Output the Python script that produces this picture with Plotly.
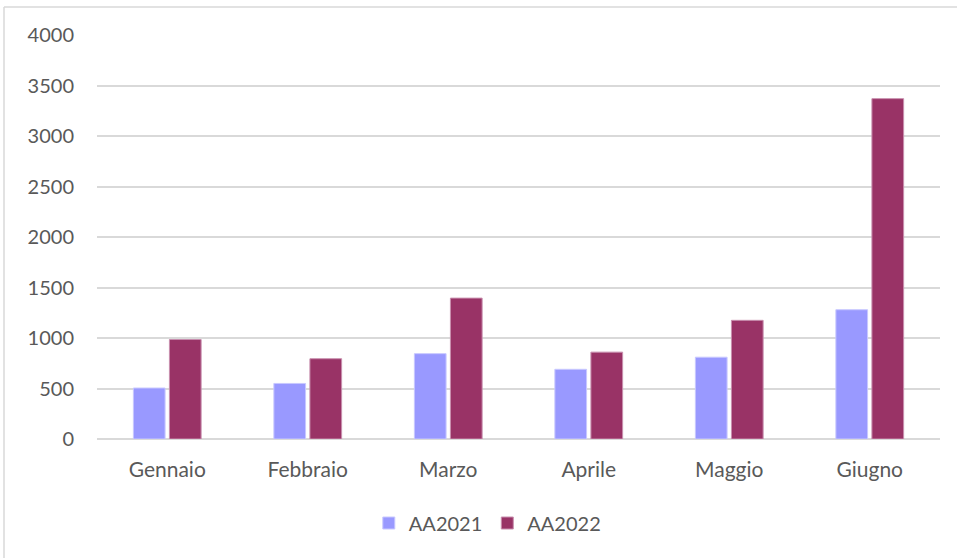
import plotly.graph_objects as go

months = ["Gennaio", "Febbraio", "Marzo", "Aprile", "Maggio", "Giugno"]
aa2021 = [505, 550, 845, 690, 810, 1280]
aa2022 = [985, 795, 1395, 860, 1175, 3370]
y_ticks = [0, 500, 1000, 1500, 2000, 2500, 3000, 3500, 4000]

W, H = 957, 558
L, R, T, B = 97, 17, 35, 119
pw, ph = W - L - R, H - T - B

font = dict(family="Lato, Carlito, Liberation Sans", size=20, color="#595959")
xfont = dict(family="Lato, Carlito, Liberation Sans", size=21, color="#595959")

fig = go.Figure()
fig.add_trace(go.Bar(name="AA2021", x=months, y=aa2021,
                     marker=dict(color="#9999FF", line=dict(color="#C8C8FF", width=1))))
fig.add_trace(go.Bar(name="AA2022", x=months, y=aa2022,
                     marker=dict(color="#993366", line=dict(color="#C88FAE", width=1))))

fig.update_layout(
    width=W, height=H,
    margin=dict(l=L, r=R, t=T, b=B),
    paper_bgcolor="white", plot_bgcolor="white",
    barmode="group", bargap=0.487, bargroupgap=0.12,
    font=font,
    showlegend=True,
    legend=dict(orientation="h", x=0.463, xanchor="center",
                y=-(523 - (T + ph)) / ph, yanchor="middle",
                font=font, itemwidth=30, traceorder="normal"),
    xaxis=dict(showgrid=False, showline=False, ticks="", ticklabelstandoff=16,
               tickfont=xfont),
    yaxis=dict(range=[0, 4000], tickvals=y_ticks, showgrid=True,
               gridcolor="#D9D9D9", gridwidth=1.5, zeroline=True,
               zerolinecolor="#D9D9D9", zerolinewidth=1.5, showline=False,
               ticks="", ticklabelstandoff=22, tickfont=font),
    shapes=[
        dict(type="line", xref="paper", yref="paper",
             x0=(4 - L) / pw, x1=(W - L) / pw, y0=1 + (T - 7) / ph, y1=1 + (T - 7) / ph,
             line=dict(color="#D9D9D9", width=1.5)),
        dict(type="line", xref="paper", yref="paper",
             x0=(4 - L) / pw, x1=(4 - L) / pw, y0=1 + (T - 7) / ph, y1=-(H - T - ph) / ph,
             line=dict(color="#D9D9D9", width=1.5)),
    ],
)

fig.write_html("out.html")
